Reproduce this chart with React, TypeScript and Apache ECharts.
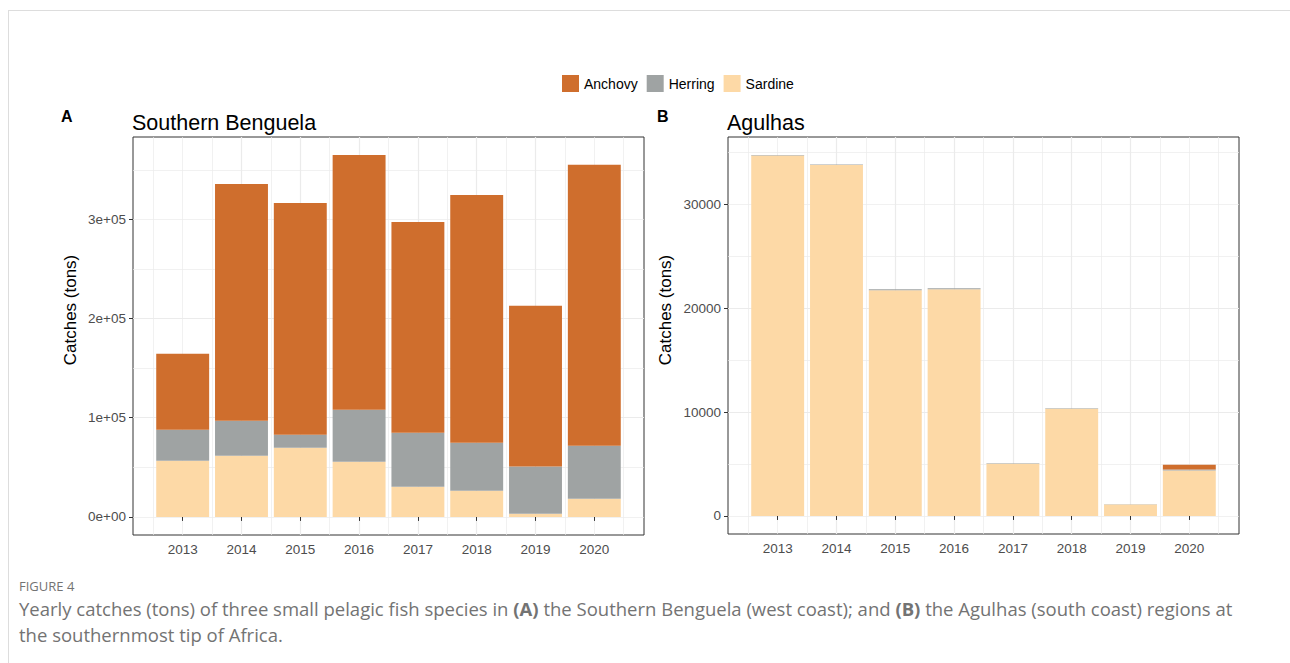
import React, { useEffect, useRef } from 'react';
import * as echarts from 'echarts';

// ---------- data ----------
const years = [2013, 2014, 2015, 2016, 2017, 2018, 2019, 2020];
const species = ['Anchovy', 'Herring', 'Sardine'];

// Southern Benguela (tons)
const benguelaSardine = [56700, 61700, 69800, 55700, 30500, 26500, 3300, 18400];
const benguelaHerring = [31200, 35300, 13100, 52300, 54400, 48300, 47400, 53400];
const benguelaAnchovy = [76500, 238600, 233600, 256800, 212500, 249800, 162200, 283200];

// Agulhas (tons)
const agulhasSardine = [34700, 33780, 21720, 21820, 5020, 10320, 1100, 4370];
const agulhasHerring = [50, 50, 100, 100, 50, 50, 20, 100];
const agulhasAnchovy = [0, 0, 0, 0, 0, 0, 0, 450];

// tick labels
const benguelaTicks = [0, 100000, 200000, 300000];
const agulhasTicks = [0, 10000, 20000, 30000];

const COLORS: Record<string, string> = {
  Anchovy: '#CF6E2D',
  Herring: '#9FA3A3',
  Sardine: '#FDD9A6',
};

const FONT = '"Liberation Sans", Arial, Helvetica, sans-serif';

function sciLabel(v: number): string {
  const [m, e] = v.toExponential(0).split('e');
  return `${m}e${e[0]}${e.slice(1).padStart(2, '0')}`;
}

// layout
const PANEL_W = 511;
const PANEL_H = 398;
const PANEL_TOP = 137;
const A_LEFT = 133;
const B_LEFT = 728;
const BAR_FRAC = 0.9;

const half = BAR_FRAC / 2;
const xSpan = years[years.length - 1] - years[0] + BAR_FRAC;
const X_MIN = years[0] - half - 0.05 * xSpan;
const X_MAX = years[years.length - 1] + half + 0.05 * xSpan;
const UNIT_PX = PANEL_W / (X_MAX - X_MIN);
const BAR_PX = BAR_FRAC * UNIT_PX;

function totals(a: number[], b: number[], c: number[]) {
  return a.map((v, i) => v + b[i] + c[i]);
}

function buildPanel(
  gi: number,
  sardine: number[],
  herring: number[],
  anchovy: number[],
  ticks: number[],
  fmt: (v: number) => string
) {
  const maxT = Math.max(...totals(sardine, herring, anchovy));
  const yMin = -0.05 * maxT;
  const yMax = 1.05 * maxT;
  const gridLine = '#EBEBEB';
  const labelStyle = { color: '#4D4D4D', fontSize: 13.5, fontFamily: FONT, margin: 7 };
  const xAxes = [
    {
      type: 'value',
      gridIndex: gi,
      min: X_MIN,
      max: X_MAX,
      splitNumber: 8,
      axisLine: { show: false },
      axisTick: { show: true, length: 4, lineStyle: { color: '#333', width: 1 }, customValues: years },
      axisLabel: { ...labelStyle, customValues: years, formatter: (v: number) => String(Math.round(v)) },
      splitLine: { show: true, showMinLine: false, showMaxLine: false, lineStyle: { color: gridLine, width: 1.2 } },
    },
    {
      type: 'value',
      gridIndex: gi,
      min: X_MIN,
      max: X_MAX,
      splitNumber: 16,
      axisLine: { show: false },
      axisTick: { show: false },
      axisLabel: { show: false },
      splitLine: { show: true, showMinLine: false, showMaxLine: false, lineStyle: { color: gridLine, width: 0.7 } },
    },
  ];
  const yAxes = [
    {
      type: 'value',
      gridIndex: gi,
      min: yMin,
      max: yMax,
      splitNumber: 4,
      axisLine: { show: false },
      axisTick: { show: true, length: 4, lineStyle: { color: '#333', width: 1 }, customValues: ticks },
      axisLabel: { ...labelStyle, customValues: ticks, formatter: fmt },
      splitLine: { show: true, showMinLine: false, showMaxLine: false, lineStyle: { color: gridLine, width: 1.2 } },
    },
    {
      type: 'value',
      gridIndex: gi,
      min: yMin,
      max: yMax,
      splitNumber: 8,
      axisLine: { show: false },
      axisTick: { show: false },
      axisLabel: { show: false },
      splitLine: { show: true, showMinLine: false, showMaxLine: false, lineStyle: { color: gridLine, width: 0.7 } },
    },
  ];
  const stack = 'stack' + gi;
  const mk = (name: string, vals: number[]) => ({
    type: 'bar',
    name,
    stack,
    xAxisIndex: gi * 2,
    yAxisIndex: gi * 2,
    barWidth: BAR_PX,
    itemStyle: { color: COLORS[name] },
    // value first so that the stack is computed on the value dimension
    encode: { x: 1, y: 0 },
    data: years.map((y, i) => [vals[i], y]),
  });
  const series = [mk('Sardine', sardine), mk('Herring', herring), mk('Anchovy', anchovy)];
  return { xAxes, yAxes, series };
}

export default function App() {
  const ref = useRef<HTMLDivElement>(null);

  useEffect(() => {
    if (!ref.current) return;
    const chart = echarts.init(ref.current, null, { renderer: 'svg' });
    const A = buildPanel(0, benguelaSardine, benguelaHerring, benguelaAnchovy, benguelaTicks, sciLabel);
    const B = buildPanel(1, agulhasSardine, agulhasHerring, agulhasAnchovy, agulhasTicks, (v: number) => String(v));

    const yTitle = (x: number) => ({
      type: 'text',
      x,
      y: 310,
      rotation: Math.PI / 2,
      style: {
        text: 'Catches (tons)',
        fill: '#000',
        font: `17px ${FONT}`,
        textAlign: 'center',
        textVerticalAlign: 'middle',
      },
    });

    chart.setOption({
      animation: false,
      textStyle: { fontFamily: FONT },
      legend: {
        data: species,
        left: 557,
        top: 70,
        itemWidth: 17,
        itemHeight: 17,
        itemGap: 9,
        icon: 'rect',
        selectedMode: false,
        textStyle: { fontSize: 14, color: '#000', fontFamily: FONT },
      },
      title: [
        { text: 'Southern Benguela', left: A_LEFT - 1, top: 112, padding: 0, textStyle: { fontSize: 21.5, fontWeight: 'normal', color: '#000', fontFamily: FONT } },
        { text: 'Agulhas', left: B_LEFT - 1, top: 112, padding: 0, textStyle: { fontSize: 21.5, fontWeight: 'normal', color: '#000', fontFamily: FONT } },
        { text: 'A', left: 61, top: 108, padding: 0, textStyle: { fontSize: 16, fontWeight: 'bold', color: '#000', fontFamily: FONT } },
        { text: 'B', left: 657, top: 108, padding: 0, textStyle: { fontSize: 16, fontWeight: 'bold', color: '#000', fontFamily: FONT } },
      ],
      graphic: [yTitle(70), yTitle(665)],
      grid: [
        { left: A_LEFT, top: PANEL_TOP, width: PANEL_W, height: PANEL_H, show: true, borderColor: '#333', borderWidth: 1, backgroundColor: 'transparent', containLabel: false },
        { left: B_LEFT, top: PANEL_TOP, width: PANEL_W, height: PANEL_H - 1, show: true, borderColor: '#333', borderWidth: 1, backgroundColor: 'transparent', containLabel: false },
      ],
      xAxis: [...A.xAxes, ...B.xAxes],
      yAxis: [...A.yAxes, ...B.yAxes],
      series: [...A.series, ...B.series],
    });
    return () => chart.dispose();
  }, []);

  return (
    <div style={{ position: 'absolute', left: 0, top: 0, width: 1290, height: 663, overflow: 'hidden', background: '#fff' }}>
      <div
        style={{
          position: 'absolute',
          left: 8,
          top: 10,
          width: 1290,
          height: 663,
          borderTop: '1px solid #DDDDDD',
          borderLeft: '1px solid #DDDDDD',
        }}
      />
      <div ref={ref} style={{ position: 'absolute', left: 0, top: 0, width: 1290, height: 570 }} />
      <div
        style={{
          position: 'absolute',
          left: 19,
          top: 577,
          fontFamily: '"Open Sans", sans-serif',
          color: '#737373',
          whiteSpace: 'nowrap',
        }}
      >
        <div style={{ fontSize: 13, lineHeight: '18px' }}>FIGURE 4</div>
        <div style={{ fontSize: 18.5, lineHeight: '26px', marginTop: 1 }}>
          Yearly catches (tons) of three small pelagic fish species in <b>(A)</b> the Southern Benguela (west coast); and <b>(B)</b> the Agulhas (south coast) regions at
          <br />
          the southernmost tip of Africa.
        </div>
      </div>
    </div>
  );
}
